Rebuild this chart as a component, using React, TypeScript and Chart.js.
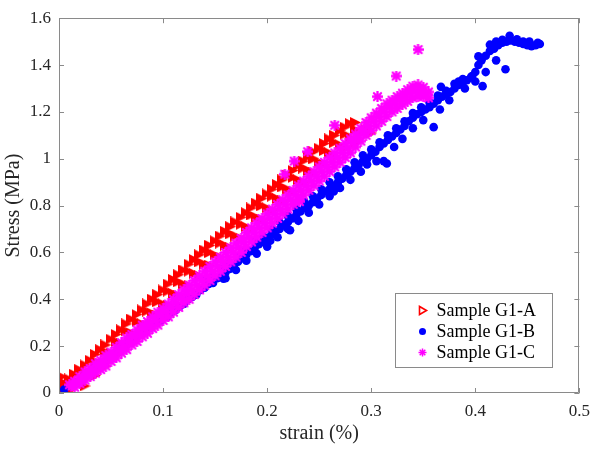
import React, { useEffect, useRef } from 'react';
import { Chart, registerables } from 'chart.js';

Chart.register(...registerables);

// ---------- data (strain %, stress MPa) ----------
const seriesNames = ['Sample G1-A', 'Sample G1-B', 'Sample G1-C'];
const xTickValues = [0, 0.1, 0.2, 0.3, 0.4, 0.5];
const yTickValues = [0, 0.2, 0.4, 0.6, 0.8, 1, 1.2, 1.4, 1.6];

const sampleA: [number, number][] = [
  [0, 0], [0.002, 0.05], [0.003, 0.07],
  [0, 0.02], [0.005, 0.04], [0.01, 0.06], [0.015, 0.08], [0.02, 0.1], [0.025, 0.12], [0.03, 0.14], [0.035, 0.165],
  [0.04, 0.185], [0.045, 0.205], [0.05, 0.23], [0.055, 0.25], [0.06, 0.27], [0.065, 0.295], [0.07, 0.315], [0.075, 0.335],
  [0.08, 0.355], [0.085, 0.38], [0.09, 0.4], [0.095, 0.42], [0.1, 0.44], [0.105, 0.465], [0.11, 0.485], [0.115, 0.505],
  [0.12, 0.525], [0.125, 0.55], [0.13, 0.57], [0.135, 0.59], [0.14, 0.61], [0.145, 0.63], [0.15, 0.65], [0.155, 0.67],
  [0.16, 0.69], [0.165, 0.71], [0.17, 0.73], [0.175, 0.75], [0.18, 0.77], [0.185, 0.79], [0.19, 0.81], [0.195, 0.83],
  [0.2, 0.85], [0.205, 0.87], [0.21, 0.89], [0.215, 0.91], [0.22, 0.93], [0.225, 0.95], [0.23, 0.97], [0.235, 0.99],
  [0.24, 1.01], [0.245, 1.03], [0.25, 1.045], [0.255, 1.065], [0.26, 1.085], [0.265, 1.1], [0.27, 1.12], [0.275, 1.135],
  [0.28, 1.15], [0.285, 1.155],
  [0.005, 0.01], [0.015, 0.05], [0.025, 0.09], [0.035, 0.135], [0.045, 0.175], [0.055, 0.22], [0.065, 0.265],
  [0.075, 0.305], [0.085, 0.35], [0.095, 0.39], [0.105, 0.435], [0.115, 0.475], [0.125, 0.52], [0.135, 0.56],
  [0.145, 0.6], [0.155, 0.64], [0.165, 0.68], [0.175, 0.72], [0.185, 0.76], [0.195, 0.8], [0.205, 0.84],
  [0.215, 0.88], [0.225, 0.92], [0.235, 0.96], [0.245, 1.0], [0.255, 1.035], [0.265, 1.07], [0.275, 1.105],
  [0.285, 1.125], [0.295, 1.125],
  [0.01, 0.01], [0.02, 0.04], [0.03, 0.08], [0.04, 0.125], [0.05, 0.17], [0.06, 0.21], [0.07, 0.255], [0.08, 0.295],
  [0.09, 0.34], [0.1, 0.38], [0.11, 0.425], [0.12, 0.465], [0.13, 0.51], [0.14, 0.55], [0.15, 0.59], [0.16, 0.63],
  [0.17, 0.67], [0.18, 0.71], [0.19, 0.75], [0.2, 0.79], [0.21, 0.83], [0.22, 0.87], [0.23, 0.91], [0.24, 0.95],
  [0.25, 0.985], [0.26, 1.025], [0.27, 1.06], [0.28, 1.09], [0.29, 1.11], [0.3, 1.11],
  [0.025, 0.03], [0.035, 0.075], [0.045, 0.115], [0.055, 0.16], [0.065, 0.205], [0.075, 0.245], [0.085, 0.29],
  [0.095, 0.33], [0.105, 0.375], [0.115, 0.415], [0.125, 0.46], [0.135, 0.5], [0.145, 0.545], [0.155, 0.58],
  [0.165, 0.62], [0.175, 0.66], [0.185, 0.7], [0.195, 0.74], [0.205, 0.78], [0.215, 0.82], [0.225, 0.86],
  [0.235, 0.9], [0.245, 0.94], [0.255, 0.975], [0.265, 1.01], [0.275, 1.045], [0.285, 1.07],
];

const sampleB: [number, number][] = [
  [0.005, 0.015], [0.015, 0.045], [0.025, 0.075], [0.035, 0.11], [0.045, 0.14], [0.055, 0.175], [0.062, 0.2],
  [0.066, 0.22], [0.072, 0.235], [0.078, 0.25], [0.082, 0.264], [0.088, 0.28], [0.093, 0.3], [0.098, 0.31],
  [0.104, 0.325], [0.108, 0.345], [0.112, 0.355], [0.116, 0.37], [0.12, 0.38], [0.124, 0.4], [0.128, 0.41],
  [0.132, 0.42], [0.136, 0.44], [0.14, 0.45], [0.144, 0.465], [0.148, 0.47], [0.152, 0.49], [0.156, 0.5],
  [0.158, 0.488], [0.16, 0.515], [0.164, 0.53], [0.168, 0.545], [0.172, 0.56], [0.176, 0.575], [0.18, 0.59],
  [0.184, 0.605], [0.188, 0.62], [0.192, 0.635], [0.196, 0.645], [0.2, 0.66], [0.204, 0.675], [0.208, 0.69],
  [0.212, 0.7], [0.216, 0.715], [0.22, 0.73], [0.222, 0.695], [0.224, 0.745], [0.228, 0.76], [0.232, 0.775],
  [0.236, 0.79], [0.24, 0.8], [0.244, 0.815], [0.248, 0.83], [0.252, 0.845], [0.256, 0.86], [0.26, 0.87],
  [0.264, 0.885], [0.268, 0.9], [0.272, 0.915], [0.276, 0.93], [0.28, 0.945], [0.284, 0.96], [0.288, 0.975],
  [0.292, 0.99], [0.296, 1.0], [0.3, 1.015], [0.304, 1.03], [0.308, 1.05], [0.312, 1.065], [0.316, 1.08],
  [0.32, 1.095], [0.324, 1.11], [0.328, 1.125], [0.332, 1.14], [0.336, 1.16], [0.34, 1.175], [0.344, 1.19],
  [0.348, 1.2], [0.352, 1.21], [0.356, 1.22], [0.36, 1.235], [0.364, 1.25], [0.368, 1.265], [0.372, 1.275],
  [0.376, 1.285], [0.38, 1.3], [0.384, 1.315], [0.388, 1.325], [0.392, 1.335], [0.396, 1.35], [0.4, 1.37],
  [0.403, 1.4], [0.406, 1.42], [0.41, 1.44], [0.414, 1.46], [0.418, 1.47], [0.422, 1.485], [0.426, 1.495],
  [0.43, 1.5], [0.434, 1.505], [0.438, 1.5], [0.442, 1.495], [0.446, 1.49], [0.45, 1.485], [0.454, 1.48],
  [0.458, 1.485], [0.462, 1.49],
  [0.14, 0.48], [0.148, 0.5], [0.156, 0.53], [0.164, 0.555], [0.172, 0.585], [0.18, 0.615], [0.188, 0.645],
  [0.196, 0.67], [0.204, 0.7], [0.212, 0.73], [0.22, 0.755], [0.228, 0.785], [0.236, 0.815], [0.244, 0.84],
  [0.252, 0.87], [0.26, 0.9], [0.268, 0.925], [0.276, 0.955], [0.284, 0.985], [0.292, 1.015], [0.3, 1.04],
  [0.308, 1.07], [0.316, 1.1], [0.324, 1.13], [0.332, 1.16], [0.34, 1.195], [0.348, 1.22], [0.356, 1.24],
  [0.364, 1.27], [0.372, 1.29], [0.38, 1.32], [0.388, 1.34],
  [0.16, 0.49], [0.17, 0.525], [0.18, 0.565], [0.19, 0.595], [0.2, 0.625], [0.203, 0.65], [0.21, 0.665],
  [0.22, 0.7], [0.23, 0.735], [0.24, 0.77], [0.25, 0.805], [0.26, 0.84], [0.264, 0.86], [0.27, 0.875],
  [0.28, 0.91], [0.29, 0.945], [0.296, 0.976], [0.305, 0.99], [0.312, 0.99], [0.315, 0.98], [0.322, 1.05],
  [0.33, 1.085], [0.34, 1.13], [0.35, 1.165], [0.36, 1.135], [0.366, 1.21], [0.375, 1.25], [0.39, 1.3],
  [0.4, 1.33], [0.407, 1.31], [0.41, 1.37], [0.42, 1.42], [0.429, 1.382],
  [0.367, 1.307], [0.384, 1.33], [0.397, 1.353], [0.403, 1.437], [0.414, 1.487], [0.42, 1.5], [0.426, 1.508],
  [0.433, 1.525], [0.44, 1.51], [0.446, 1.5], [0.452, 1.5], [0.46, 1.495],
];

const sampleC: [number, number][] = [
  [0.01, 0.035], [0.015, 0.05], [0.02, 0.07], [0.025, 0.09], [0.03, 0.105], [0.035, 0.125], [0.04, 0.14], [0.045, 0.16],
  [0.05, 0.175], [0.055, 0.195], [0.06, 0.215], [0.065, 0.235], [0.07, 0.25], [0.075, 0.27], [0.08, 0.29], [0.085, 0.305],
  [0.09, 0.325], [0.095, 0.345], [0.1, 0.36], [0.105, 0.38], [0.11, 0.4], [0.115, 0.42], [0.12, 0.44], [0.125, 0.46],
  [0.13, 0.48], [0.135, 0.5], [0.14, 0.52], [0.145, 0.54], [0.15, 0.56], [0.155, 0.58], [0.16, 0.6], [0.165, 0.62],
  [0.17, 0.64], [0.175, 0.66], [0.18, 0.685], [0.185, 0.705], [0.19, 0.725], [0.195, 0.745], [0.2, 0.765], [0.205, 0.785],
  [0.21, 0.805], [0.215, 0.825], [0.22, 0.845], [0.225, 0.865], [0.23, 0.885], [0.235, 0.905], [0.24, 0.925], [0.245, 0.945],
  [0.25, 0.965], [0.255, 0.985], [0.26, 1.005], [0.265, 1.025], [0.27, 1.045], [0.275, 1.065], [0.28, 1.085], [0.285, 1.105],
  [0.29, 1.13], [0.295, 1.155], [0.3, 1.175], [0.305, 1.195], [0.31, 1.215], [0.315, 1.235], [0.32, 1.25], [0.325, 1.265],
  [0.33, 1.28], [0.335, 1.295], [0.34, 1.31], [0.345, 1.315], [0.35, 1.305], [0.355, 1.285],
  [0.0125, 0.03], [0.0175, 0.045], [0.0225, 0.06], [0.0275, 0.08], [0.0325, 0.095], [0.0375, 0.115], [0.0425, 0.13],
  [0.0475, 0.15], [0.0525, 0.165], [0.0575, 0.185], [0.0625, 0.2], [0.0675, 0.22], [0.0725, 0.24], [0.0775, 0.255],
  [0.0825, 0.275], [0.0875, 0.29], [0.0925, 0.31], [0.0975, 0.33], [0.1025, 0.345], [0.1075, 0.365], [0.1125, 0.385],
  [0.1175, 0.405], [0.1225, 0.425], [0.1275, 0.44], [0.1325, 0.46], [0.1375, 0.48], [0.1425, 0.5], [0.1475, 0.52],
  [0.1525, 0.54], [0.1575, 0.56], [0.1625, 0.58], [0.1675, 0.6], [0.1725, 0.62], [0.1775, 0.645], [0.1825, 0.665],
  [0.1875, 0.685], [0.1925, 0.705], [0.1975, 0.725], [0.2025, 0.745], [0.2075, 0.765], [0.2125, 0.785], [0.2175, 0.805],
  [0.2225, 0.825], [0.2275, 0.845], [0.2325, 0.865], [0.2375, 0.885], [0.2425, 0.905], [0.2475, 0.925], [0.2525, 0.945],
  [0.2575, 0.965], [0.2625, 0.985], [0.2675, 1.005], [0.2725, 1.025], [0.2775, 1.045], [0.2825, 1.07], [0.2875, 1.09],
  [0.2925, 1.115], [0.2975, 1.14], [0.3025, 1.16], [0.3075, 1.18], [0.3125, 1.2], [0.3175, 1.22], [0.3225, 1.235],
  [0.3275, 1.25], [0.3325, 1.265], [0.3375, 1.28], [0.3425, 1.29], [0.3475, 1.29], [0.3525, 1.28],
  [0.015, 0.025], [0.02, 0.04], [0.025, 0.055], [0.03, 0.07], [0.035, 0.085], [0.04, 0.1], [0.045, 0.115], [0.05, 0.135],
  [0.055, 0.15], [0.06, 0.17], [0.065, 0.185], [0.07, 0.205], [0.075, 0.22], [0.08, 0.24], [0.085, 0.255], [0.09, 0.275],
  [0.095, 0.29], [0.1, 0.31], [0.105, 0.325], [0.11, 0.345], [0.115, 0.365], [0.12, 0.385], [0.125, 0.4], [0.13, 0.42],
  [0.135, 0.44], [0.14, 0.46], [0.145, 0.48], [0.15, 0.5], [0.155, 0.52], [0.16, 0.54], [0.165, 0.56], [0.17, 0.58],
  [0.175, 0.6], [0.18, 0.625], [0.185, 0.645], [0.19, 0.665], [0.195, 0.685], [0.2, 0.705], [0.205, 0.725], [0.21, 0.745],
  [0.215, 0.765], [0.22, 0.785], [0.225, 0.805], [0.23, 0.825], [0.235, 0.845], [0.24, 0.865], [0.245, 0.885], [0.25, 0.905],
  [0.255, 0.925], [0.26, 0.945], [0.265, 0.965], [0.27, 0.985], [0.275, 1.005], [0.28, 1.025], [0.285, 1.05], [0.29, 1.075],
  [0.295, 1.1], [0.3, 1.12], [0.305, 1.14], [0.31, 1.16], [0.315, 1.18], [0.32, 1.2], [0.325, 1.215], [0.33, 1.23],
  [0.335, 1.245], [0.34, 1.26], [0.345, 1.265], [0.35, 1.265], [0.355, 1.26],
  [0.217, 0.934], [0.226, 0.99], [0.239, 1.03], [0.265, 1.143], [0.306, 1.265], [0.324, 1.353], [0.345, 1.466], [0.231, 0.817],
];

// ---------- styling ----------
const FONT = "'Liberation Serif', 'Times New Roman', serif";
const AXIS_COLOR = '#8a8a8a';
const TEXT_COLOR = '#262626';
const RED = '#ff0000';
const BLUE = '#0000ff';
const MAGENTA = '#ff00ff';

const toPoints = (arr: [number, number][]) => arr.map(([x, y]) => ({ x, y }));

function makeTriangleMarker(size: number, color: string) {
  const c = document.createElement('canvas');
  c.width = size;
  c.height = size;
  const g = c.getContext('2d') as CanvasRenderingContext2D;
  g.fillStyle = color;
  g.beginPath();
  g.moveTo(size, size / 2);
  g.lineTo(0, 0);
  g.lineTo(0, size);
  g.closePath();
  g.fill();
  return c;
}

function makeStarMarker(size: number, color: string, lw: number) {
  const c = document.createElement('canvas');
  c.width = size;
  c.height = size;
  const g = c.getContext('2d') as CanvasRenderingContext2D;
  const r = size / 2 - 0.5;
  const cx = size / 2;
  g.strokeStyle = color;
  g.lineWidth = lw;
  g.lineCap = 'round';
  g.beginPath();
  for (let k = 0; k < 4; k++) {
    const ang = (k * Math.PI) / 4;
    g.moveTo(cx - Math.cos(ang) * r, cx - Math.sin(ang) * r);
    g.lineTo(cx + Math.cos(ang) * r, cx + Math.sin(ang) * r);
  }
  g.stroke();
  return c;
}

const framePlugin = {
  id: 'matlabFrame',
  afterDatasetsDraw(chart: any) {
    const { ctx, chartArea: a, scales } = chart;
    const xs = scales.x;
    const ys = scales.y;
    ctx.save();
    ctx.strokeStyle = AXIS_COLOR;
    ctx.lineWidth = 1;
    ctx.beginPath();
    ctx.rect(Math.round(a.left) + 0.5, Math.round(a.top) + 0.5, Math.round(a.right - a.left) - 1, Math.round(a.bottom - a.top) - 1);
    const tl = 5;
    xTickValues.forEach((v) => {
      const px = Math.round(xs.getPixelForValue(v)) + 0.5;
      ctx.moveTo(px, a.bottom);
      ctx.lineTo(px, a.bottom - tl);
      ctx.moveTo(px, a.top);
      ctx.lineTo(px, a.top + tl);
    });
    yTickValues.forEach((v) => {
      const py = Math.round(ys.getPixelForValue(v)) + 0.5;
      ctx.moveTo(a.left, py);
      ctx.lineTo(a.left + tl, py);
      ctx.moveTo(a.right, py);
      ctx.lineTo(a.right - tl, py);
    });
    ctx.stroke();

    // legend (southeast, inside axes)
    const boxW = 157;
    const boxH = 74;
    const bx = Math.round(a.right - 27 - boxW) + 0.5;
    const by = Math.round(a.bottom - 26 - boxH) + 0.5;
    ctx.fillStyle = '#ffffff';
    ctx.fillRect(bx, by, boxW, boxH);
    ctx.strokeStyle = AXIS_COLOR;
    ctx.strokeRect(bx, by, boxW, boxH);
    const mx = bx + 27;
    const tx = bx + 41;
    const rows = [by + 17, by + 38, by + 59];
    ctx.strokeStyle = RED;
    ctx.lineWidth = 1.6;
    ctx.beginPath();
    ctx.moveTo(mx + 4, rows[0]);
    ctx.lineTo(mx - 3, rows[0] - 4);
    ctx.lineTo(mx - 3, rows[0] + 4);
    ctx.closePath();
    ctx.stroke();
    ctx.fillStyle = BLUE;
    ctx.beginPath();
    ctx.arc(mx, rows[1], 3.5, 0, Math.PI * 2);
    ctx.fill();
    ctx.strokeStyle = MAGENTA;
    ctx.lineWidth = 1.5;
    ctx.beginPath();
    for (let k = 0; k < 4; k++) {
      const ang = (k * Math.PI) / 4;
      const dx = Math.cos(ang) * 4;
      const dy = Math.sin(ang) * 4;
      ctx.moveTo(mx - dx, rows[2] - dy);
      ctx.lineTo(mx + dx, rows[2] + dy);
    }
    ctx.stroke();
    ctx.fillStyle = '#000000';
    ctx.font = `18px ${FONT}`;
    ctx.textBaseline = 'middle';
    ctx.textAlign = 'left';
    seriesNames.forEach((name, i) => ctx.fillText(name, tx, rows[i] + 1));
    ctx.restore();
  },
};

export default function App() {
  const canvasRef = useRef<HTMLCanvasElement | null>(null);

  useEffect(() => {
    document.body.style.margin = '0';
    const canvas = canvasRef.current;
    if (!canvas) return;
    const fmt = (v: any) => String(Math.round(Number(v) * 10) / 10);
    const triangle = makeTriangleMarker(11, RED);
    const star = makeStarMarker(11, MAGENTA, 2.3);
    const chart = new Chart(canvas, {
      type: 'scatter',
      data: {
        datasets: [
          {
            label: seriesNames[0],
            data: toPoints(sampleA),
            pointStyle: triangle as any,
            pointRadius: 6,
            pointBackgroundColor: RED,
            pointBorderColor: RED,
            order: 3,
          },
          {
            label: seriesNames[1],
            data: toPoints(sampleB),
            pointStyle: 'circle',
            pointRadius: 4.3,
            pointBackgroundColor: BLUE,
            pointBorderColor: BLUE,
            pointBorderWidth: 0,
            order: 2,
          },
          {
            label: seriesNames[2],
            data: toPoints(sampleC),
            pointStyle: star as any,
            pointRadius: 6,
            pointBackgroundColor: MAGENTA,
            pointBorderColor: MAGENTA,
            order: 1,
          },
        ],
      },
      options: {
        responsive: false,
        animation: false,
        devicePixelRatio: 1,
        events: [],
        layout: { padding: { top: 11, right: 13, left: 0, bottom: 0 } },
        plugins: {
          legend: { display: false },
          tooltip: { enabled: false },
        },
        scales: {
          x: {
            type: 'linear',
            min: 0,
            max: 0.5,
            afterFit: (s: any) => {
              s.height = 59;
            },
            grid: { display: false, drawTicks: false },
            border: { display: false },
            ticks: {
              stepSize: 0.1,
              padding: 8,
              maxRotation: 0,
              color: TEXT_COLOR,
              font: { family: FONT, size: 17 },
              callback: fmt,
            },
            title: {
              display: true,
              text: 'strain (%)',
              color: TEXT_COLOR,
              font: { family: FONT, size: 20 },
              padding: { top: 0, bottom: 6 },
            },
          },
          y: {
            type: 'linear',
            min: 0,
            max: 1.6,
            afterFit: (s: any) => {
              s.width = 59;
            },
            grid: { display: false, drawTicks: false },
            border: { display: false },
            ticks: {
              stepSize: 0.2,
              padding: 8,
              color: TEXT_COLOR,
              font: { family: FONT, size: 17 },
              callback: fmt,
            },
            title: {
              display: true,
              text: 'Stress (MPa)',
              color: TEXT_COLOR,
              font: { family: FONT, size: 20 },
              padding: { top: 2, bottom: 0 },
            },
          },
        },
      },
      plugins: [framePlugin],
    });
    return () => chart.destroy();
  }, []);

  return (
    <div style={{ width: 598, height: 452, background: '#ffffff' }}>
      <canvas ref={canvasRef} width={598} height={452} style={{ display: 'block', width: 598, height: 452 }} />
    </div>
  );
}
